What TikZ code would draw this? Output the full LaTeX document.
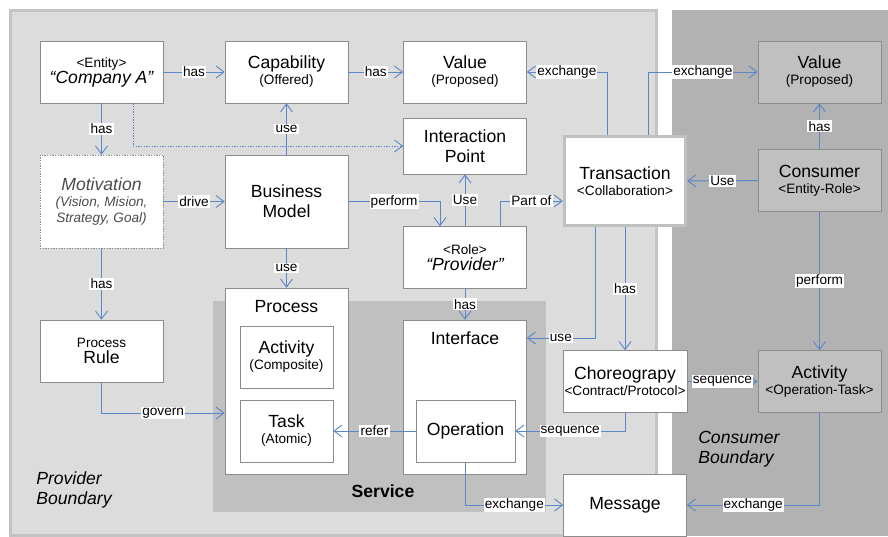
\documentclass[tikz,border=0pt]{standalone}
\usepackage{fontspec}
\setmainfont{Liberation Sans}
\usetikzlibrary{arrows.meta,calc}

\definecolor{provgray}{HTML}{DCDCDC}
\definecolor{provline}{HTML}{C4C4C4}
\definecolor{servgray}{HTML}{C0C0C0}
\definecolor{consgray}{HTML}{B2B2B2}
\definecolor{boxline}{HTML}{8C8C8C}
\definecolor{linkblue}{HTML}{5B86C8}
\newcommand{\bigtxt}{\fontsize{13.2}{15}\selectfont}
\newcommand{\smalltxt}{\fontsize{10.2}{12}\selectfont}

\begin{document}
\begin{tikzpicture}[x=0.75pt,y=-0.75pt,
    box/.style={draw=boxline,fill=white,minimum width=92.25pt,minimum height=46.5pt,inner sep=1pt,align=center},
    tall/.style={box,minimum height=69.75pt},
    subbox/.style={box,minimum width=69.75pt},
    cbox/.style={box,fill=servgray},
    conn/.style={draw=linkblue,line width=0.7pt,-{Straight Barb[length=6pt,width=9pt]}},
    lbl/.style={fill=white,inner sep=0.8pt,font=\smalltxt}]
    \useasboundingbox (0,0) rectangle (888,536);

    % Bereiche
    \draw[provline,fill=provgray,line width=2.25pt] (10,10) rectangle (656,535);
    \fill[consgray] (672,10) rectangle (888,536);
    \fill[servgray] (213,301) rectangle (546,512);

    % Anbieter
    \node[box] (comp) at (101.5,72) {{\smalltxt <Entity>}\\{\bigtxt\itshape “Company A”}};
    \node[box] (capa) at (286.5,72) {{\bigtxt Capability}\\{\smalltxt (Offered)}};
    \node[box] (val) at (465,72) {{\bigtxt Value}\\{\smalltxt (Proposed)}};
    \node[box,minimum height=42pt,font=\bigtxt] (ipt) at (465,146) {Interaction\\Point};
    \node[tall,dash pattern=on 1pt off 1pt,text=black!70] (moti) at (101.5,201.5)
        {{\bigtxt\itshape Motivation}\\{\smalltxt\itshape (Vision, Mision,}\\{\smalltxt\itshape Strategy, Goal)}};
    \node[tall,font=\bigtxt] (bm) at (286.5,201.5) {Business\\Model};
    \node[box] (role) at (465,257.5) {{\smalltxt <Role>}\\{\bigtxt\itshape “Provider”}};
    \node[box] (rule) at (101.5,351) {{\smalltxt Process}\\{\bigtxt Rule}};

    % Prozess
    \node[box,minimum height=139.5pt] (proc) at (286.5,381) {};
    \node[font=\bigtxt] (proct) at (286.5,307) {Process};
    \node[subbox] (act) at (286.5,357) {{\bigtxt Activity}\\{\smalltxt (Composite)}};
    \node[subbox] (task) at (286.5,431) {{\bigtxt Task}\\{\smalltxt (Atomic)}};

    % Schnittstelle
    \node[box,minimum height=115.5pt] (intf) at (465,397) {};
    \node[font=\bigtxt] (intft) at (465,338) {Interface};
    \node[subbox,minimum width=74.25pt,font=\bigtxt] (oper) at (465.5,431) {Operation};
    \node[font=\bigtxt\bfseries] (serv) at (383,491) {Service};

    % Mitte
    \node[box,draw=servgray,line width=2.25pt,minimum width=91pt,minimum height=67pt] (trans) at (625,181)
        {{\bigtxt Transaction}\\{\smalltxt <Collaboration>}};
    \node[box] (chor) at (625,381.5) {{\bigtxt Choreograpy}\\{\smalltxt <Contract/Protocol>}};
    \node[box,font=\bigtxt] (msg) at (625,505) {Message};

    % Konsument
    \node[cbox] (cval) at (819.5,72) {{\bigtxt Value}\\{\smalltxt (Proposed)}};
    \node[cbox] (cons) at (819.5,180.5) {{\bigtxt Consumer}\\{\smalltxt <Entity-Role>}};
    \node[cbox] (cact) at (819.5,381.5) {{\bigtxt Activity}\\{\smalltxt <Operation-Task>}};

    % Grenzen
    \node[font=\bigtxt\itshape,align=left,anchor=north west,inner sep=0pt] (pbound) at (36,471) {Provider\\Boundary};
    \node[font=\bigtxt\itshape,align=left,anchor=north west,inner sep=0pt] (cbound) at (698,431) {Consumer\\Boundary};

    % Verbindungen
    \draw[conn] (comp) -- node[lbl]{has} (capa);
    \draw[conn] (comp) -- node[lbl]{has} (moti);
    \draw[conn,dash pattern=on 1pt off 1pt] ($(comp.south)+(31.5,0)$) |- (ipt);
    \draw[conn] (capa) -- node[lbl]{has} (val);
    \draw[conn] (bm) -- node[lbl]{use} (capa);
    \draw[conn] (moti) -- node[lbl]{drive} (bm);
    \draw[conn] (bm.east) -| node[lbl,pos=0.25]{perform} ($(role.north)+(-25,0)$);
    \draw[conn] (role) -- node[lbl]{Use} (ipt);
    \draw[conn] ($(role.north)+(35,0)$) |- node[lbl,pos=0.75]{Part of} ($(trans.west)+(0,20)$);
    \draw[conn] ($(trans.north)+(-18,0)$) |- node[lbl,pos=0.75]{exchange} (val);
    \draw[conn] ($(trans.north)+(23,0)$) |- node[lbl,pos=0.75]{exchange} (cval);
    \draw[conn] (cons) -- node[lbl]{Use} (trans);
    \draw[conn] (cons) -- node[lbl]{has} (cval);
    \draw[conn] (cons) -- node[lbl]{perform} (cact);
    \draw[conn] (bm) -- node[lbl]{use} (proc);
    \draw[conn] (role) -- node[lbl]{has} (intf);
    \draw[conn] (moti) -- node[lbl]{has} (rule);
    \draw[conn] (rule) |- node[lbl,pos=0.75]{govern} ($(proc.west)+(0,32)$);
    \draw[conn] ($(trans.south)+(-30,0)$) |- node[lbl,pos=0.75]{use} ($(intf.east)+(0,-59)$);
    \draw[conn] (trans) -- node[lbl]{has} (chor);
    \draw[conn] (chor) -- node[lbl]{sequence} (cact);
    \draw[conn] (chor) |- node[lbl,pos=0.75]{sequence} (oper);
    \draw[conn] (oper) -- node[lbl]{refer} (task);
    \draw[conn] (oper) |- node[lbl,pos=0.75]{exchange} (msg);
    \draw[conn] (cact) |- node[lbl,pos=0.75]{exchange} (msg);
\end{tikzpicture}
\end{document}
